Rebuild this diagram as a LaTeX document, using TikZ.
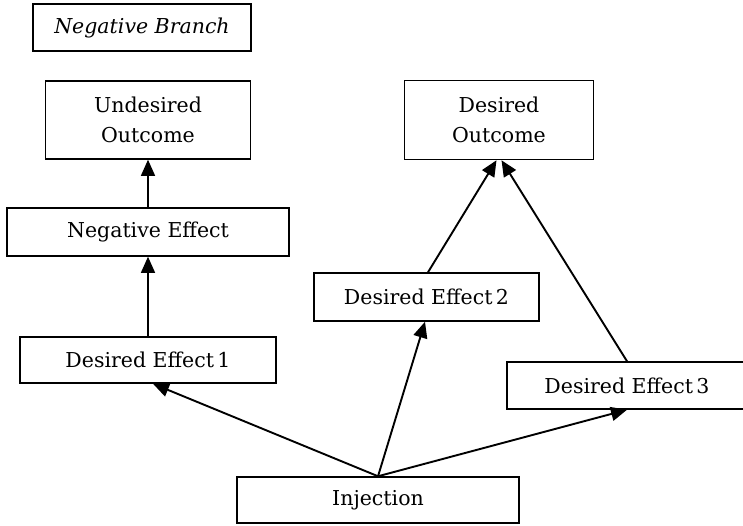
\documentclass[tikz,border=0pt]{standalone}
\usepackage{fontspec}
\setmainfont{DejaVu Serif}
\usetikzlibrary{arrows.meta,calc}
\begin{document}
\begin{tikzpicture}[x=1pt,y=-1pt,
  box/.style={draw,line width=1.5pt,rectangle,inner sep=0pt,align=center,
    font=\fontsize{20.5}{30}\selectfont},
  link/.style={line width=1.3pt,-{Triangle[length=16pt,width=14pt]}},
  thick link/.style={line width=1.9pt,-{Triangle[length=16pt,width=14pt]}}]
\useasboundingbox (0,0) rectangle (743,525);

\node[box,minimum width=218pt,minimum height=47pt] (nb) at (142,27.5)
  {\itshape Negative Branch};
\node[box,minimum width=205pt,minimum height=78pt] (uo) at (148,120)
  {Undesired\\Outcome};
\node[box,minimum width=282pt,minimum height=48pt] (ne) at (148,232)
  {Negative Effect};
\node[box,minimum width=256pt,minimum height=46pt] (de1) at (148,360)
  {Desired Effect\,1};
\node[box,minimum width=189pt,minimum height=79pt] (do) at (499,120)
  {Desired\\Outcome};
\node[box,minimum width=225pt,minimum height=48pt] (de2) at (426.5,297)
  {Desired Effect\,2};
\node[box,minimum width=240pt,minimum height=47pt] (de3) at (627,385.5)
  {Desired Effect\,3};
\node[box,minimum width=282pt,minimum height=46pt] (inj) at (378,500)
  {Injection};

\draw[link] (ne.north) -- (uo.south);
\draw[link] (de1.north) -- (ne.south);
\draw[thick link] (inj.north) -- ($(de1.south)+(5,0)$);
\draw[thick link] (inj.north) -- ($(de2.south)+(-1.5,0)$);
\draw[thick link] (inj.north) -- (de3.south);
\draw[thick link] ($(de2.north)+(1.5,0)$) -- ($(do.south)+(-2.5,0)$);
\draw[thick link] (de3.north) -- ($(do.south)+(2.5,0)$);
\end{tikzpicture}
\end{document}
